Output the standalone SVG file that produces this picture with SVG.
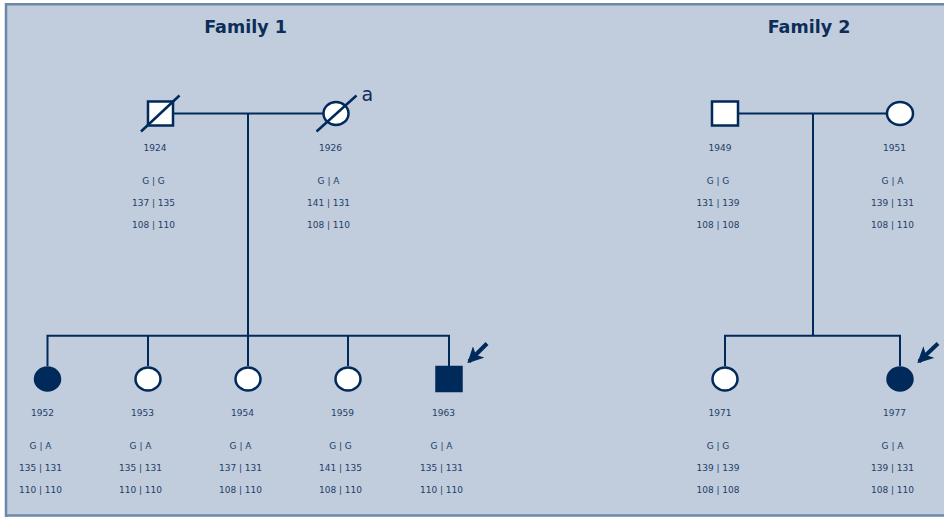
<svg xmlns="http://www.w3.org/2000/svg" width="944" height="517" viewBox="0 0 944 517">
  <defs>
    <style>
      .bg { fill: #c1ccdc; }
      .frame { fill: none; stroke: #6d87aa; stroke-width: 2.5; }
      .title { font-family: "DejaVu Sans", "Liberation Sans", sans-serif; font-weight: bold; font-size: 17.5px; fill: #0b2d58; text-anchor: middle; }
      .lbl { font-family: "DejaVu Sans", "Liberation Sans", sans-serif; font-size: 9px; fill: #1f3e68; text-anchor: middle; }
      .note { font-family: "DejaVu Sans", "Liberation Sans", sans-serif; font-size: 19px; fill: #0b2d58; }
      .line { fill: none; stroke: #002a5a; stroke-width: 2; }
      .open { fill: #ffffff; stroke: #002a5a; stroke-width: 2.5; }
      .aff { fill: #002a5a; stroke: #002a5a; stroke-width: 2.5; }
      .dead { stroke: #002a5a; stroke-width: 2.5; }
      .arrow { stroke: #002a5a; stroke-width: 4; marker-end: url(#head); }
    </style>
    <marker id="head" viewBox="0 0 10 10" refX="8.5" refY="5" markerWidth="4" markerHeight="4" orient="auto" markerUnits="strokeWidth">
      <path d="M0,0 L10,5 L0,10 L2.5,5 Z" fill="#002a5a"/>
    </marker>
  </defs>

  <!-- panel -->
  <rect x="0" y="0" width="944" height="517" fill="#ffffff"/>
  <rect class="bg" x="6" y="4" width="940" height="511"/>
  <path class="frame" d="M6,517 V4.2 H946 M6,515.5 H946"/>

  <text class="title" x="245.5" y="32.5">Family 1</text>
  <text class="title" x="809" y="32.5">Family 2</text>

  <!-- connectors -->
  <g id="connectors">
    <path class="line" d="M173,113.5 H323"/>
    <path class="line" d="M248,113.5 V335.7"/>
    <path class="line" d="M47.5,366 V335.7 H449 V366"/>
    <path class="line" d="M148,366 V335.7"/>
    <path class="line" d="M248,366 V335.7"/>
    <path class="line" d="M348,366 V335.7"/>

    <path class="line" d="M738,113.5 H887"/>
    <path class="line" d="M813,113.5 V335.7"/>
    <path class="line" d="M725,366 V335.7 H900 V366"/>
  </g>

  <!-- Family 1 -->
  <g id="f1-father">
    <rect class="open" x="148" y="101.5" width="25" height="24"/>
    <line class="dead" x1="141" y1="131.5" x2="179.5" y2="95.5"/>
    <text class="lbl" x="155" y="151">1924</text>
    <text class="lbl" x="153.5" y="184">G | G</text>
    <text class="lbl" x="153.5" y="206">137 | 135</text>
    <text class="lbl" x="153.5" y="228">108 | 110</text>
  </g>
  <g id="f1-mother">
    <ellipse class="open" cx="336" cy="113.5" rx="12.5" ry="11.5"/>
    <line class="dead" x1="316.5" y1="131.5" x2="356.5" y2="95.5"/>
    <text class="note" x="361.5" y="101">a</text>
    <text class="lbl" x="330.5" y="151">1926</text>
    <text class="lbl" x="328.5" y="184">G | A</text>
    <text class="lbl" x="328.5" y="206">141 | 131</text>
    <text class="lbl" x="328.5" y="228">108 | 110</text>
  </g>
  <g id="f1-1952">
    <ellipse class="aff" cx="47.5" cy="379" rx="12.5" ry="11.5"/>
    <text class="lbl" x="42.5" y="416">1952</text>
    <text class="lbl" x="40.5" y="449">G | A</text>
    <text class="lbl" x="40.5" y="470.5">135 | 131</text>
    <text class="lbl" x="40.5" y="492.5">110 | 110</text>
  </g>
  <g id="f1-1953">
    <ellipse class="open" cx="148" cy="379" rx="12.5" ry="11.5"/>
    <text class="lbl" x="142.5" y="416">1953</text>
    <text class="lbl" x="140.5" y="449">G | A</text>
    <text class="lbl" x="140.5" y="470.5">135 | 131</text>
    <text class="lbl" x="140.5" y="492.5">110 | 110</text>
  </g>
  <g id="f1-1954">
    <ellipse class="open" cx="248" cy="379" rx="12.5" ry="11.5"/>
    <text class="lbl" x="242.5" y="416">1954</text>
    <text class="lbl" x="240.5" y="449">G | A</text>
    <text class="lbl" x="240.5" y="470.5">137 | 131</text>
    <text class="lbl" x="240.5" y="492.5">108 | 110</text>
  </g>
  <g id="f1-1959">
    <ellipse class="open" cx="348" cy="379" rx="12.5" ry="11.5"/>
    <text class="lbl" x="342.5" y="416">1959</text>
    <text class="lbl" x="340.5" y="449">G | G</text>
    <text class="lbl" x="340.5" y="470.5">141 | 135</text>
    <text class="lbl" x="340.5" y="492.5">108 | 110</text>
  </g>
  <g id="f1-1963">
    <rect class="aff" x="436.5" y="367" width="25" height="24"/>
    <line class="arrow" x1="487" y1="343.5" x2="469" y2="361.5"/>
    <text class="lbl" x="443.5" y="416">1963</text>
    <text class="lbl" x="441.5" y="449">G | A</text>
    <text class="lbl" x="441.5" y="470.5">135 | 131</text>
    <text class="lbl" x="441.5" y="492.5">110 | 110</text>
  </g>

  <!-- Family 2 -->
  <g id="f2-father">
    <rect class="open" x="712" y="101.5" width="26" height="24"/>
    <text class="lbl" x="720" y="151">1949</text>
    <text class="lbl" x="718" y="184">G | G</text>
    <text class="lbl" x="718" y="206">131 | 139</text>
    <text class="lbl" x="718" y="228">108 | 108</text>
  </g>
  <g id="f2-mother">
    <ellipse class="open" cx="900" cy="113.5" rx="13" ry="11.5"/>
    <text class="lbl" x="894.5" y="151">1951</text>
    <text class="lbl" x="892.5" y="184">G | A</text>
    <text class="lbl" x="892.5" y="206">139 | 131</text>
    <text class="lbl" x="892.5" y="228">108 | 110</text>
  </g>
  <g id="f2-1971">
    <ellipse class="open" cx="725" cy="379" rx="12.5" ry="11.5"/>
    <text class="lbl" x="720" y="416">1971</text>
    <text class="lbl" x="718" y="449">G | G</text>
    <text class="lbl" x="718" y="470.5">139 | 139</text>
    <text class="lbl" x="718" y="492.5">108 | 108</text>
  </g>
  <g id="f2-1977">
    <ellipse class="aff" cx="900" cy="379" rx="12.5" ry="11.5"/>
    <line class="arrow" x1="938" y1="343.5" x2="919" y2="361.5"/>
    <text class="lbl" x="894.5" y="416">1977</text>
    <text class="lbl" x="892.5" y="449">G | A</text>
    <text class="lbl" x="892.5" y="470.5">139 | 131</text>
    <text class="lbl" x="892.5" y="492.5">108 | 110</text>
  </g>
</svg>
